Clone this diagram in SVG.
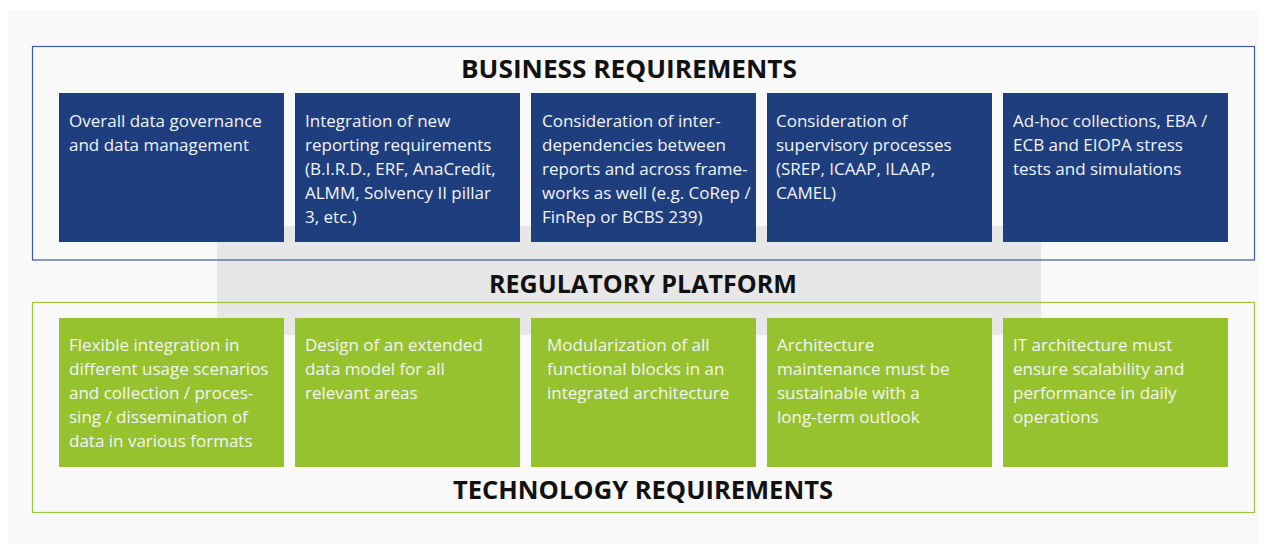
<svg xmlns="http://www.w3.org/2000/svg" width="1267" height="544" viewBox="0 0 1267 544">
<style>
.bg{fill:#f9f9f9}
.plat{fill:#e7e7e7}
.bframe{fill:none;stroke:#3a5c9e;stroke-width:1.2}
.tframe{fill:none;stroke:#9cc73c;stroke-width:1.2}
.bbox{fill:#1e3e7e}
.gbox{fill:#97c22f}
.title{font-family:"Open Sans","Noto Sans","DejaVu Sans",sans-serif;font-weight:700;font-size:25px;fill:#111111}
.t{font-family:"Open Sans","Noto Sans","DejaVu Sans",sans-serif;font-size:17px;fill:#f4f4f4}
</style>
<rect class="bg" x="8" y="10" width="1251" height="534"/>
<rect class="plat" x="217" y="226" width="824" height="109"/>
<g id="business-frame">
<rect class="bframe" x="32.5" y="46.5" width="1222" height="213.5"/>
<text class="title" x="629" y="78" text-anchor="middle" textLength="336" lengthAdjust="spacingAndGlyphs">BUSINESS REQUIREMENTS</text>
</g>
<g id="technology-frame">
<rect class="tframe" x="32.5" y="302.5" width="1222" height="210"/>
<text class="title" x="643" y="499" text-anchor="middle" textLength="380" lengthAdjust="spacingAndGlyphs">TECHNOLOGY REQUIREMENTS</text>
</g>
<g id="platform">
<text class="title" x="643" y="293" text-anchor="middle" textLength="308" lengthAdjust="spacingAndGlyphs">REGULATORY PLATFORM</text>
</g>
<g id="connectors"></g>
<g id="b1">
<rect class="bbox" x="59" y="93" width="225" height="149"/>
<text class="t" x="69" y="127">Overall data governance</text>
<text class="t" x="69" y="151">and data management</text>
</g>
<g id="b2">
<rect class="bbox" x="295" y="93" width="225" height="149"/>
<text class="t" x="305" y="127">Integration of new</text>
<text class="t" x="305" y="151">reporting requirements</text>
<text class="t" x="305" y="175">(B.I.R.D., ERF, AnaCredit,</text>
<text class="t" x="305" y="199">ALMM, Solvency II pillar</text>
<text class="t" x="305" y="223">3, etc.)</text>
</g>
<g id="b3">
<rect class="bbox" x="531" y="93" width="225" height="149"/>
<text class="t" x="542" y="127">Consideration of inter-</text>
<text class="t" x="542" y="151">dependencies between</text>
<text class="t" x="542" y="175">reports and across frame-</text>
<text class="t" x="542" y="199">works as well (e.g. CoRep /</text>
<text class="t" x="542" y="223">FinRep or BCBS 239)</text>
</g>
<g id="b4">
<rect class="bbox" x="767" y="93" width="225" height="149"/>
<text class="t" x="776" y="127">Consideration of</text>
<text class="t" x="776" y="151">supervisory processes</text>
<text class="t" x="776" y="175">(SREP, ICAAP, ILAAP,</text>
<text class="t" x="776" y="199">CAMEL)</text>
</g>
<g id="b5">
<rect class="bbox" x="1003" y="93" width="225" height="149"/>
<text class="t" x="1013" y="127">Ad-hoc collections, EBA /</text>
<text class="t" x="1013" y="151">ECB and EIOPA stress</text>
<text class="t" x="1013" y="175">tests and simulations</text>
</g>
<g id="g1">
<rect class="gbox" x="59" y="318" width="225" height="149"/>
<text class="t" x="69" y="351">Flexible integration in</text>
<text class="t" x="69" y="375">different usage scenarios</text>
<text class="t" x="69" y="399">and collection / proces-</text>
<text class="t" x="69" y="423">sing / dissemination of</text>
<text class="t" x="69" y="447">data in various formats</text>
</g>
<g id="g2">
<rect class="gbox" x="295" y="318" width="225" height="149"/>
<text class="t" x="305" y="351">Design of an extended</text>
<text class="t" x="305" y="375">data model for all</text>
<text class="t" x="305" y="399">relevant areas</text>
</g>
<g id="g3">
<rect class="gbox" x="531" y="318" width="225" height="149"/>
<text class="t" x="547" y="351">Modularization of all</text>
<text class="t" x="547" y="375">functional blocks in an</text>
<text class="t" x="547" y="399">integrated architecture</text>
</g>
<g id="g4">
<rect class="gbox" x="767" y="318" width="225" height="149"/>
<text class="t" x="777" y="351">Architecture</text>
<text class="t" x="777" y="375">maintenance must be</text>
<text class="t" x="777" y="399">sustainable with a</text>
<text class="t" x="777" y="423">long-term outlook</text>
</g>
<g id="g5">
<rect class="gbox" x="1003" y="318" width="225" height="149"/>
<text class="t" x="1013" y="351">IT architecture must</text>
<text class="t" x="1013" y="375">ensure scalability and</text>
<text class="t" x="1013" y="399">performance in daily</text>
<text class="t" x="1013" y="423">operations</text>
</g>
</svg>
